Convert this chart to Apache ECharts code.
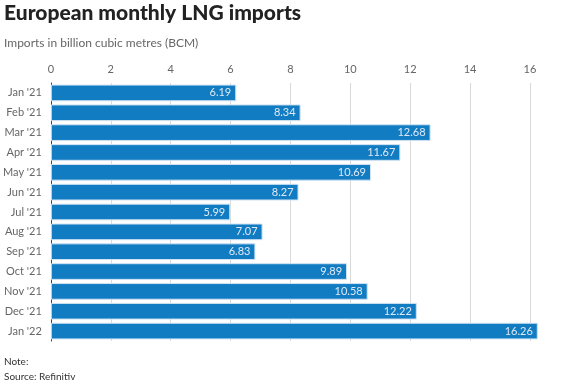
<!DOCTYPE html>
<html><head><meta charset="utf-8">
<script src="https://cdn.jsdelivr.net/npm/echarts@6/dist/echarts.min.js"></script>
<style>html,body{margin:0;padding:0;background:#fff}#c{width:567px;height:385px}</style>
</head><body><div id="c"></div>
<script>
const categories = ["Jan '21","Feb '21","Mar '21","Apr '21","May '21","Jun '21","Jul '21","Aug '21","Sep '21","Oct '21","Nov '21","Dec '21","Jan '22"];
const values = [6.19, 8.34, 12.68, 11.67, 10.69, 8.27, 5.99, 7.07, 6.83, 9.89, 10.58, 12.22, 16.26];
const titleText = "European monthly LNG imports";
const subtitleText = "Imports in billion cubic metres (BCM)";
const noteText = "Note:";
const sourceText = "Source: Refinitiv";

const chart = echarts.init(document.getElementById('c'), null, {renderer: 'canvas'});
const F = 'Lato, "Noto Sans", sans-serif';
chart.setOption({
  animation: false,
  textStyle: {fontFamily: F},
  graphic: [
    {type: 'text', left: 4, top: 3, style: {text: titleText, font: '900 21px ' + F, fill: '#222'}},
    {type: 'text', left: 4, top: 37, style: {text: subtitleText, font: '12px ' + F, fill: '#666'}},
    {type: 'text', left: 4, top: 357, style: {text: noteText, font: '10px ' + F, fill: '#333'}},
    {type: 'text', left: 4, top: 372, style: {text: sourceText, font: '10px ' + F, fill: '#333'}}
  ],
  grid: {left: 49, right: 37, top: 83, bottom: 44, containLabel: false},
  xAxis: {
    type: 'value', position: 'top', min: 0, max: 16, interval: 2,
    axisLine: {show: false}, axisTick: {show: false},
    axisLabel: {color: '#666', fontSize: 11, margin: 8},
    splitLine: {show: true, lineStyle: {color: '#d9d9d9', width: 1}}
  },
  yAxis: {
    type: 'category', data: categories, inverse: true,
    axisLine: {show: true, lineStyle: {color: '#444', width: 1}},
    axisTick: {show: false},
    axisLabel: {color: '#666', fontSize: 11, margin: 9}
  },
  series: [{
    type: 'bar', data: values, clip: false,
    barCategoryGap: '16%',
    itemStyle: {color: '#127cc3', borderColor: '#cfe3f3', borderWidth: 1},
    label: {show: true, position: 'insideRight', color: '#dfe9f3', fontSize: 11, distance: 5,
      formatter: p => p.value.toFixed(2)}
  }]
});
</script></body></html>
